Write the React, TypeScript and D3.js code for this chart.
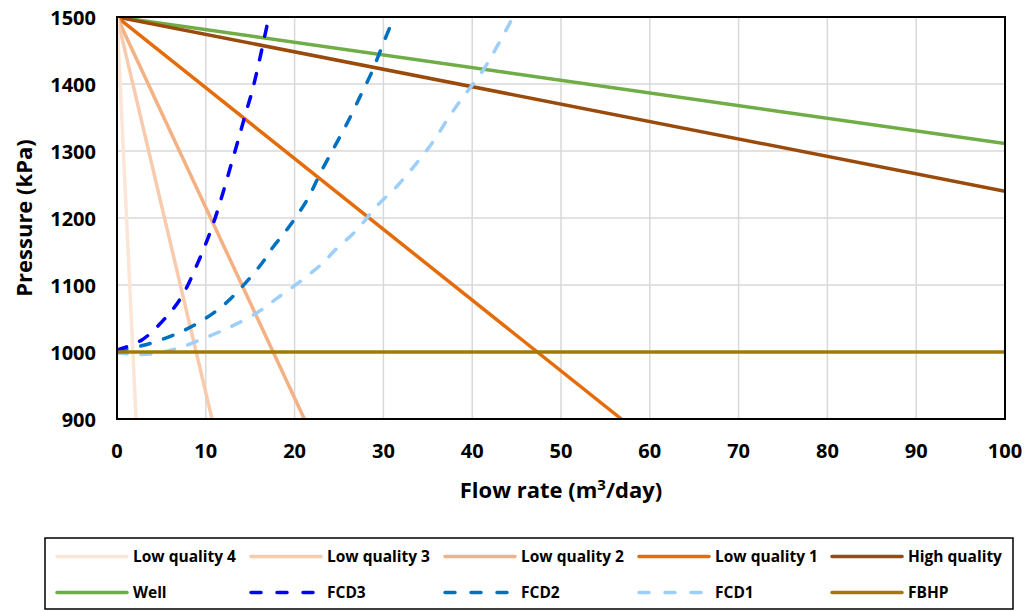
import React from "react";
import * as d3 from "d3";

type Pt = [number, number];

const xTicks = [0, 10, 20, 30, 40, 50, 60, 70, 80, 90, 100];
const yTicks = [900, 1000, 1100, 1200, 1300, 1400, 1500];

const lowQuality4: Pt[] = [[0, 1500], [2.15, 900]];
const lowQuality3: Pt[] = [[0, 1500], [10.7, 900]];
const lowQuality2: Pt[] = [[0, 1500], [21.1, 900]];
const lowQuality1: Pt[] = [[0, 1500], [56.8, 900]];
const highQuality: Pt[] = [[0, 1500], [100, 1240]];
const well: Pt[] = [[0, 1500], [100, 1311]];
const fbhp: Pt[] = [[0, 1000], [100, 1000]];
const fcd3: Pt[] = [
  [0, 1003], [2.8, 1018], [5.6, 1053], [7.3, 1083], [9, 1130], [10.85, 1192],
  [13.1, 1291], [14.4, 1352], [15.35, 1396], [17.1, 1500],
];
const fcd2: Pt[] = [
  [0, 1002], [3, 1010], [6.5, 1026], [9.35, 1045], [12, 1070], [14.2, 1099],
  [16.3, 1132], [17.6, 1157], [19.1, 1182], [21.4, 1227], [22.9, 1267],
  [24.4, 1304], [25.9, 1341], [27.55, 1386], [28.7, 1418], [30, 1461], [31.2, 1500],
];
const fcd1: Pt[] = [
  [0, 999], [1.5, 997], [3.7, 997], [6.7, 1005], [9.7, 1020], [12.7, 1037],
  [15.7, 1058], [18, 1080], [20.6, 1105], [23.2, 1133], [24.4, 1150], [27, 1182],
  [29.2, 1217], [31.5, 1247], [33.75, 1282], [35.6, 1314], [37.3, 1349], [39, 1381],
  [41.1, 1418], [42.8, 1456], [44.6, 1500],
];

const seriesNames = [
  "Low quality 4", "Low quality 3", "Low quality 2", "Low quality 1", "High quality",
  "Well", "FCD3", "FCD2", "FCD1", "FBHP",
];
const seriesData: Pt[][] = [
  lowQuality4, lowQuality3, lowQuality2, lowQuality1, highQuality,
  well, fcd3, fcd2, fcd1, fbhp,
];
const seriesColors = [
  "#FBE5D6", "#F8CBAD", "#F4B183", "#E46C0A", "#9A4A0B",
  "#70AD47", "#0000FF", "#0070C0", "#9DCFFA", "#A07A04",
];
const seriesDashed = [false, false, false, false, false, false, true, true, true, false];
// drawing order (back to front)
const drawOrder = [5, 4, 3, 2, 1, 0, 8, 7, 6, 9];

const W = 1024;
const H = 611;
const M = { left: 117, right: 1005, top: 17, bottom: 419 };
const FONT = "'Open Sans', Lato, 'DejaVu Sans', sans-serif";

export default function App() {
  const x = d3.scaleLinear().domain([0, 100]).range([M.left, M.right]);
  const y = d3.scaleLinear().domain([900, 1500]).range([M.bottom, M.top]);
  const line = d3
    .line<Pt>()
    .x((d) => x(d[0]))
    .y((d) => y(d[1]))
    .curve(d3.curveCatmullRom.alpha(0.5));

  const legendCols = [57, 251, 445, 639, 832];
  const legendRows = [556.5, 592.5];

  return (
    <svg
      width={W}
      height={H}
      style={{ position: "absolute", left: 0, top: 0, background: "#fff" }}
      fontFamily={FONT}
    >
      <defs>
        <clipPath id="plotClip">
          <rect x={M.left} y={M.top} width={M.right - M.left} height={M.bottom - M.top} />
        </clipPath>
      </defs>
      {/* grid */}
      {xTicks.map((t) => (
        <line key={"gx" + t} x1={x(t)} x2={x(t)} y1={M.top} y2={M.bottom} stroke="#D9D9D9" strokeWidth={1.5} />
      ))}
      {yTicks.map((t) => (
        <line key={"gy" + t} x1={M.left} x2={M.right} y1={y(t)} y2={y(t)} stroke="#D9D9D9" strokeWidth={1.5} />
      ))}
      {/* series */}
      <g clipPath="url(#plotClip)">
        {drawOrder.map((i) => (
          <path
            key={seriesNames[i]}
            d={line(seriesData[i]) || ""}
            fill="none"
            stroke={seriesColors[i]}
            strokeWidth={3.5}
            strokeDasharray={seriesDashed[i] ? "10 14" : undefined}
            strokeLinecap={seriesDashed[i] ? "round" : "butt"}
          />
        ))}
      </g>
      {/* frame */}
      <rect
        x={M.left}
        y={M.top}
        width={M.right - M.left}
        height={M.bottom - M.top}
        fill="none"
        stroke="#000"
        strokeWidth={2}
      />
      {/* tick labels */}
      {yTicks.map((t) => (
        <text
          key={"ty" + t}
          x={96}
          y={y(t) + 7.5}
          textAnchor="end"
          fontWeight="bold"
          fontSize={20}
        >
          {t}
        </text>
      ))}
      {xTicks.map((t) => (
        <text
          key={"tx" + t}
          x={x(t)}
          y={458}
          textAnchor="middle"
          fontWeight="bold"
          fontSize={20}
        >
          {t}
        </text>
      ))}
      {/* axis titles */}
      <text x={(M.left + M.right) / 2} y={498} textAnchor="middle" fontWeight="bold" fontSize={22}>
        Flow rate (m<tspan fontSize={15} dy={-8}>3</tspan>
        <tspan dy={8}>/day)</tspan>
      </text>
      <text
        transform={`translate(32,${(M.top + M.bottom) / 2}) rotate(-90)`}
        textAnchor="middle"
        fontWeight="bold"
        fontSize={22}
      >
        Pressure (kPa)
      </text>
      {/* legend */}
      <rect x={45} y={538} width={968} height={71} fill="#fff" stroke="#000" strokeWidth={1.5} />
      {seriesNames.map((name, i) => {
        const cx = legendCols[i % 5];
        const cy = legendRows[Math.floor(i / 5)];
        return (
          <g key={"lg" + name}>
            <line
              x1={cx}
              x2={cx + 70}
              y1={cy}
              y2={cy}
              stroke={seriesColors[i]}
              strokeWidth={3.5}
              strokeDasharray={seriesDashed[i] ? "10 16" : undefined}
              strokeLinecap="round"
            />
            <text x={cx + 76} y={cy + 5.5} fontWeight="bold" fontSize={15.5}>
              {name}
            </text>
          </g>
        );
      })}
    </svg>
  );
}
